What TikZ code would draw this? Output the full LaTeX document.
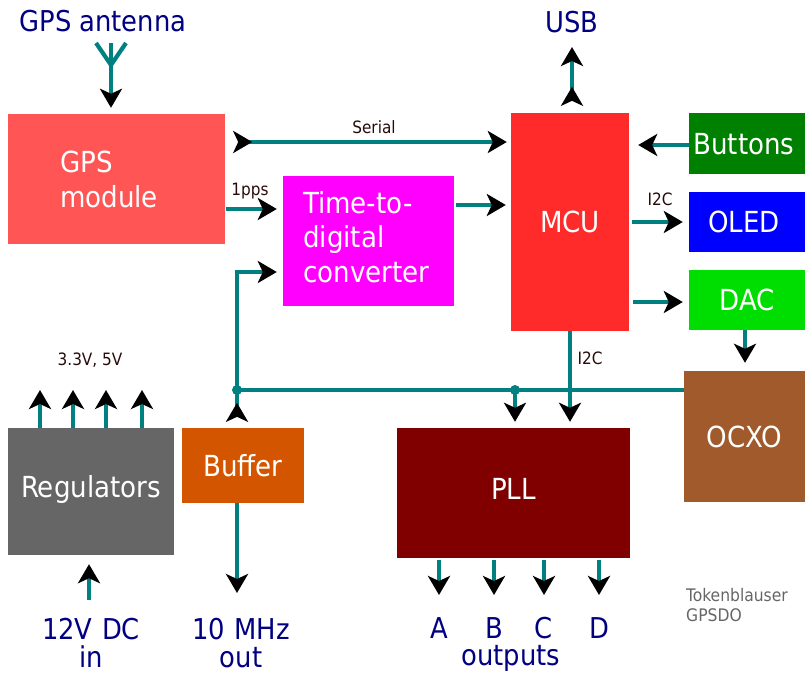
\documentclass[tikz,border=0pt]{standalone}
\usepackage{fontspec}
\setmainfont{DejaVu Sans Condensed}
\usetikzlibrary{arrows.meta}
\definecolor{wire}{HTML}{008080}
\definecolor{lblblue}{HTML}{000080}
\definecolor{smalltxt}{HTML}{280B0B}
\definecolor{graytxt}{HTML}{666666}
\definecolor{cgps}{HTML}{FF5555}
\definecolor{ctdc}{HTML}{FF00FF}
\definecolor{cmcu}{HTML}{FF2A2A}
\definecolor{cbtn}{HTML}{008000}
\definecolor{coled}{HTML}{0000FF}
\definecolor{cdac}{HTML}{00DD00}
\definecolor{cocxo}{HTML}{A05A2C}
\definecolor{cpll}{HTML}{800000}
\definecolor{creg}{HTML}{666666}
\definecolor{cbuf}{HTML}{D45500}
\newcommand\fbig{\fontsize{29pt}{35pt}\selectfont}
\newcommand\ftdc{\fontsize{29pt}{34.5pt}\selectfont}
\newcommand\flbl{\fontsize{28.7pt}{28pt}\selectfont}
\newcommand\fsmall{\fontsize{17pt}{17pt}\selectfont}
\newcommand\fsig{\fontsize{17.3pt}{20pt}\selectfont}
\begin{document}
\begin{tikzpicture}[x=1pt,y=-1pt,
  fwd/.tip={Stealth[length=19pt,width=22pt,inset=5pt,color=black]},
  bwd/.tip={Stealth[length=19pt,width=22pt,inset=5pt,color=black,reversed]},
  sig/.style={draw=wire,line width=4.2pt},
  boxbase/.style={draw=none,inner sep=0pt,text=white,font=\fbig},
  box/.style={boxbase,text height=21pt,text depth=0pt},
  boxtxt/.style={inner sep=0pt,text=white,anchor=base west,align=left},
  lbl/.style={inner sep=0pt,text=lblblue,font=\flbl,anchor=base},
  small/.style={inner sep=0pt,text=smalltxt,font=\fsmall,anchor=base},
  dot/.style={fill=wire}]
\useasboundingbox (0,0) rectangle (805,674);

% boxes
\node[boxbase,fill=cgps,minimum width=217pt,minimum height=130pt] (gps) at (116.5,179) {};
\node[boxtxt,font=\fbig,text width=150pt] (gpst) at (60,172) {GPS\\module};
\node[boxbase,fill=ctdc,minimum width=171pt,minimum height=130pt] (tdc) at (368.5,241) {};
\node[boxtxt,font=\ftdc,text width=150pt] (tdct) at (303,213) {Time-to-\\digital\\converter};
\node[box,fill=cmcu,minimum width=118pt,minimum height=218pt] (mcu) at (570,222) {MCU};
\node[box,fill=cbtn,minimum width=116pt,minimum height=61pt] (btn) at (747,143.5) {\hspace*{-6pt}Buttons};
\node[box,fill=coled,minimum width=116pt,minimum height=60pt] (oled) at (747,222) {\hspace*{-6pt}OLED};
\node[box,fill=cdac,minimum width=116pt,minimum height=60pt] (dac) at (747,300) {DAC};
\node[box,fill=cocxo,minimum width=121pt,minimum height=131pt] (ocxo) at (744.5,436.5) {OCXO};
\node[box,fill=cpll,minimum width=233pt,minimum height=130pt,text depth=8pt] (pll) at (513.5,493) {PLL};
\node[box,fill=creg,minimum width=166pt,minimum height=127pt,text depth=10pt] (reg) at (91,491.5) {Regulators};
\node[box,fill=cbuf,minimum width=122pt,minimum height=75pt] (buf) at (243,465.5) {Buffer};

% outside labels
\node[lbl] (antl) at (103,32) {GPS antenna};
\node[lbl] (usb) at (572,33) {USB};
\node[lbl,text width=120pt,align=center] (dcin) at (91,639) {12V DC\\in};
\node[lbl,text width=120pt,align=center] (mhz) at (241,639) {10 MHz\\out};
\node[lbl] (la) at (439,638) {A};
\node[lbl] (lb) at (494,638) {B};
\node[lbl] (lc) at (544,638) {C};
\node[lbl] (ld) at (599,638) {D};
\node[lbl] (outs) at (511,665) {outputs};
\node[inner sep=0pt,text=graytxt,font=\fsig,anchor=base west,align=left,text width=120pt] (sig) at (686,601) {Tokenblauser\\GPSDO};

% small labels
\node[small] (serl) at (374,133) {Serial};
\node[small] (ppsl) at (250,195) {1pps};
\node[small] (i2ca) at (660,205) {I2C};
\node[small] (i2cb) at (590,364) {I2C};
\node[small] (vl) at (90,365) {3.3V, 5V};

% coordinates
\coordinate (ant) at (111,43);
\coordinate (antj) at (111,65);
\coordinate (sery) at (0,142);
\coordinate (ppsy) at (0,209);
\coordinate (tdcy) at (0,205);
\coordinate (btny) at (0,145);
\coordinate (oledy) at (0,222);
\coordinate (dacy) at (0,302);
\coordinate (tiny) at (0,272);
\coordinate (usbt) at (572,47);
\coordinate (dx) at (745,0);
\coordinate (j1) at (237,390);
\coordinate (j2) at (515,390);
\coordinate (bo) at (237,593);
\coordinate (vin) at (89,600);
\coordinate (r1) at (40,390);
\coordinate (r2) at (73,390);
\coordinate (r3) at (106,390);
\coordinate (r4) at (142,390);
\coordinate (o1) at (439,595);
\coordinate (o2) at (494,595);
\coordinate (o3) at (544,595);
\coordinate (o4) at (599,595);

% antenna
\draw[sig] ([xshift=-15pt]ant) -- (antj) -- ([xshift=15pt]ant);
\draw[sig,-fwd,shorten >=6pt] (ant) -- (ant |- gps.north);

% connectors
\draw[sig,bwd-fwd,shorten <=8pt,shorten >=4pt] (gps.east |- sery) -- (mcu.west |- sery);
\draw[sig,-fwd,shorten <=1pt,shorten >=6pt] (gps.east |- ppsy) -- (tdc.west |- ppsy);
\draw[sig,-fwd,shorten <=2pt,shorten >=5pt] (tdc.east |- tdcy) -- (mcu.west |- tdcy);
\draw[sig,bwd-fwd,shorten <=7pt] (mcu.north -| usbt) -- (usbt);
\draw[sig,-fwd,shorten >=9pt] (btn.west |- btny) -- (mcu.east |- btny);
\draw[sig,-fwd,shorten <=3pt,shorten >=6pt] (mcu.east |- oledy) -- (oled.west |- oledy);
\draw[sig,-fwd,shorten <=4pt,shorten >=6pt] (mcu.east |- dacy) -- (dac.west |- dacy);
\draw[sig,-fwd,shorten >=8pt] (dac.south -| dx) -- (ocxo.north -| dx);
\draw[sig,-fwd,shorten >=6pt] (ocxo.west |- j1) -- (j1) |- (tdc.west |- tiny);
\draw[sig,bwd-,shorten <=6pt] (buf.north -| j1) -- (j1);
\draw[sig,-fwd,shorten >=6pt] (j2) -- (j2 |- pll.north);
\draw[sig,-fwd,shorten >=6pt] (mcu.south) -- (mcu.south |- pll.north);
\draw[sig,-fwd] (buf.south -| bo) -- (bo);
\draw[sig,-fwd,shorten >=9pt] (vin) -- (vin |- reg.south);
\foreach \r in {r1,r2,r3,r4} \draw[sig,-fwd] (reg.north -| \r) -- (\r);
\foreach \o in {o1,o2,o3,o4} \draw[sig,-fwd,shorten <=2pt] (pll.south -| \o) -- (\o);
\fill[dot] (j1) circle (5pt);
\fill[dot] (j2) circle (5pt);
\end{tikzpicture}
\end{document}
